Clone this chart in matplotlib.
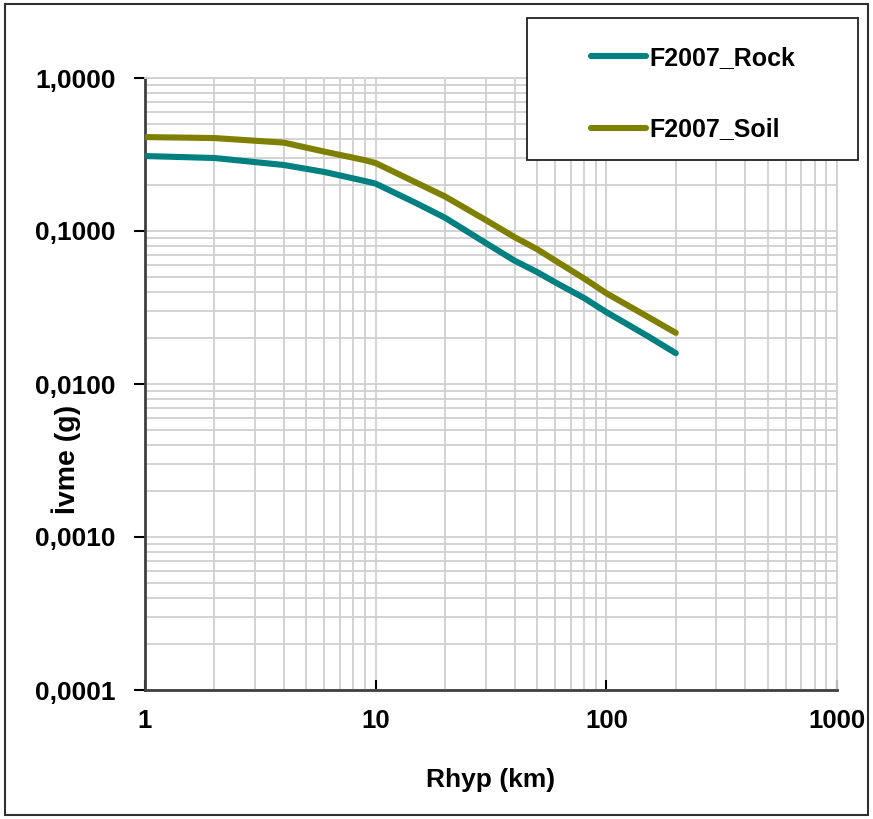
import matplotlib
matplotlib.use("Agg")
import matplotlib.pyplot as plt
from matplotlib.patches import Rectangle
from matplotlib.ticker import FixedLocator, FuncFormatter, LogLocator, NullFormatter

plt.rcParams['font.family'] = ['Liberation Sans', 'DejaVu Sans']
plt.rcParams['font.weight'] = 'bold'

# mesafe (km) ve ivme (g) degerleri
rhyp = [1, 2, 4, 6, 9, 10, 15, 20, 30, 40, 50, 60, 80, 100, 150, 200]
rock = [0.309, 0.300, 0.270, 0.243, 0.212, 0.204, 0.152, 0.122, 0.0835, 0.064,
        0.054, 0.0462, 0.0365, 0.0295, 0.0207, 0.0159]
soil = [0.411, 0.405, 0.378, 0.330, 0.290, 0.278, 0.207, 0.168, 0.118, 0.0912,
        0.0762, 0.0641, 0.049, 0.0392, 0.0277, 0.0216]

x_ticks = [1, 10, 100, 1000]
y_ticks = [0.0001, 0.001, 0.01, 0.1, 1.0]

fig = plt.figure(figsize=(8.73, 8.19), dpi=100)
ax = fig.add_axes([145 / 873, 1 - 690 / 819, 692 / 873, 612 / 819])

ax.plot(rhyp, rock, color='#008080', lw=4.4, solid_capstyle='round', label='F2007_Rock', zorder=3)
ax.plot(rhyp, soil, color='#808000', lw=4.4, solid_capstyle='round', label='F2007_Soil', zorder=3)

ax.set_xscale('log')
ax.set_yscale('log')
ax.set_xlim(1, 1000)
ax.set_ylim(0.0001, 1.0)

ax.xaxis.set_major_locator(FixedLocator(x_ticks))
ax.yaxis.set_major_locator(FixedLocator(y_ticks))
ax.xaxis.set_minor_locator(LogLocator(base=10, subs=range(2, 10)))
ax.yaxis.set_minor_locator(LogLocator(base=10, subs=range(2, 10)))
ax.xaxis.set_minor_formatter(NullFormatter())
ax.yaxis.set_minor_formatter(NullFormatter())
ax.xaxis.set_major_formatter(FuncFormatter(lambda v, p: '%d' % v))
ax.yaxis.set_major_formatter(FuncFormatter(lambda v, p: ('%.4f' % v).replace('.', ',')))

ax.grid(True, which='both', color='#d0d0d0', lw=1.3)
ax.set_axisbelow(True)

ax.tick_params(axis='x', which='major', direction='in', length=7, width=1.5, pad=14, labelsize=18.5)
ax.tick_params(axis='y', which='major', direction='out', length=8, width=1.5, pad=13, labelsize=19)
ax.tick_params(which='minor', length=0)

for s in ['left', 'bottom']:
    ax.spines[s].set_color('#404040')
    ax.spines[s].set_linewidth(2)
for s in ['top', 'right']:
    ax.spines[s].set_color('#d0d0d0')
    ax.spines[s].set_linewidth(1.3)

ax.set_xlabel('Rhyp (km)', fontsize=19, fontweight='bold', labelpad=25)
ax.set_ylabel('İvme (g)', fontsize=20.5, fontweight='bold')
ax.yaxis.set_label_coords(-0.092, 0.376)

# lejant kutusu
fig.patches.append(Rectangle((527 / 873, 1 - 160 / 819), 331 / 873, 142 / 819,
                             transform=fig.transFigure, facecolor='white',
                             edgecolor='#202020', lw=1.3, zorder=5))
leg = fig.legend(loc='upper left', bbox_to_anchor=(591 / 873, 1 - 46 / 819),
                 frameon=False, fontsize=18, handlelength=2.2, handletextpad=0.12,
                 labelspacing=1.9, borderpad=0, borderaxespad=0)
leg.set_zorder(6)

# dis cerceve
fig.patches.append(Rectangle((5 / 873, 4 / 819), 863 / 873, 811 / 819,
                             transform=fig.transFigure, facecolor='none',
                             edgecolor='#303030', lw=1.5))

fig.savefig('out.png', dpi=100)
